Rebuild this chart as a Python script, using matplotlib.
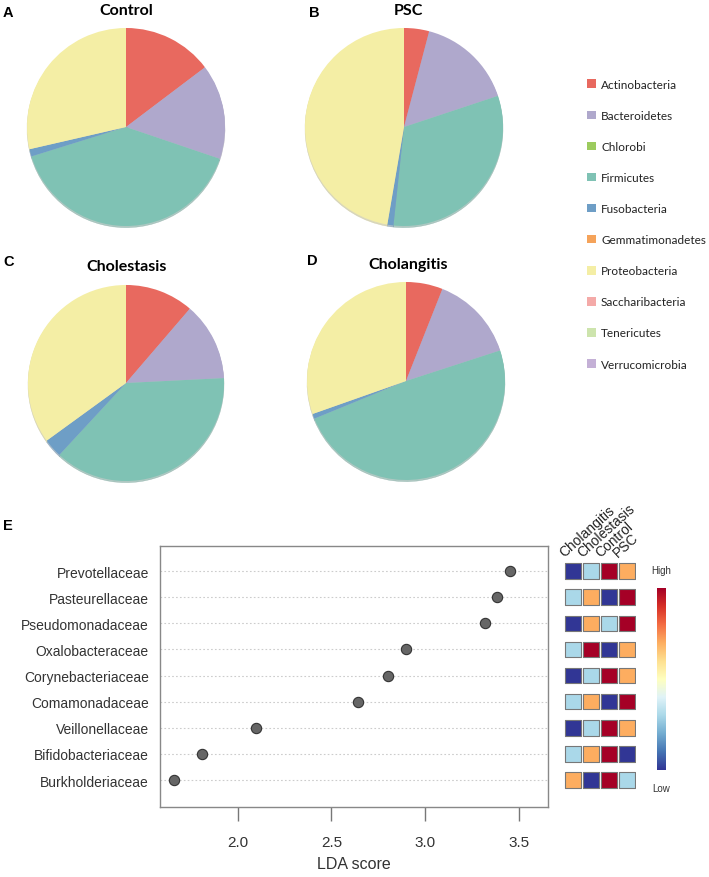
import numpy as np
import matplotlib
matplotlib.use("Agg")
import matplotlib.pyplot as plt
from matplotlib import font_manager
from matplotlib.patches import Patch

W, H = 709, 878

phyla = ['Actinobacteria', 'Bacteroidetes', 'Chlorobi', 'Firmicutes', 'Fusobacteria',
         'Gemmatimonadetes', 'Proteobacteria', 'Saccharibacteria', 'Tenericutes',
         'Verrucomicrobia']
phyla_colors = ['#e8695f', '#afa8cc', '#9ccb5e', '#7fc2b4', '#6e9ec6',
                '#f5a35a', '#f4eea5', '#f4aaa8', '#cde4ad', '#c4b0d6']

# relative abundance (%), same order as phyla
control = [14.7, 15.5, 0.0, 40.0, 1.2, 0.0, 28.6, 0.0, 0.0, 0.0]
psc = [4.1, 15.8, 0.0, 31.8, 1.0, 0.0, 47.3, 0.0, 0.0, 0.0]
cholestasis = [11.3, 12.9, 0.0, 37.7, 3.1, 0.0, 35.0, 0.0, 0.0, 0.0]
cholangitis = [6.0, 14.0, 0.0, 48.8, 0.8, 0.0, 30.4, 0.0, 0.0, 0.0]

families = ['Prevotellaceae', 'Pasteurellaceae', 'Pseudomonadaceae', 'Oxalobacteraceae',
            'Corynebacteriaceae', 'Comamonadaceae', 'Veillonellaceae',
            'Bifidobacteriaceae', 'Burkholderiaceae']
lda = [3.45, 3.38, 3.32, 2.90, 2.80, 2.64, 2.10, 1.81, 1.66]

groups = ['Cholangitis', 'Cholestasis', 'Control', 'PSC']
# relative level per group (1 = low ... 4 = high)
levels = [[1, 2, 4, 3],
          [2, 3, 1, 4],
          [1, 3, 2, 4],
          [2, 4, 1, 3],
          [1, 2, 4, 3],
          [2, 3, 1, 4],
          [1, 2, 4, 3],
          [2, 3, 4, 1],
          [3, 1, 4, 2]]

fig = plt.figure(figsize=(W / 100, H / 100), dpi=100)


def px_axes(x0, y0, x1, y1):
    return fig.add_axes([x0 / W, 1 - y1 / H, (x1 - x0) / W, (y1 - y0) / H])


def fig_text(x, y, s, **kw):
    fig.text(x / W, 1 - y / H, s, **kw)


pies = [('Control', control, 126, 128, 100, 'A', 126, 11),
        ('PSC', psc, 404, 128, 100, 'B', 408, 11),
        ('Cholestasis', cholestasis, 126, 384, 99, 'C', 127, 267),
        ('Cholangitis', cholangitis, 406, 382, 100, 'D', 408, 265)]

for name, vals, cx, cy, r, letter, tx, ty in pies:
    ax = px_axes(cx - r, cy - r, cx + r, cy + r)
    keep = [i for i, v in enumerate(vals) if v > 0]
    ax.pie([vals[i] for i in keep], colors=[phyla_colors[i] for i in keep],
           startangle=90, counterclock=False,
           wedgeprops={'linewidth': 0.3, 'edgecolor': 'none'},
           shadow={'ox': 0.0, 'oy': -0.012, 'shade': 0.25})
    ax.set_xlim(-1.01, 1.01)
    ax.set_ylim(-1.01, 1.01)
    fig_text(tx, ty, name, family='Lato', weight='bold', fontsize=11.5,
             ha='center', va='center')

for letter, x, y in [('A', 3, 13), ('B', 309, 13), ('C', 3, 262), ('D', 307, 261), ('E', 3, 526)]:
    fig_text(x, y, letter, family='Liberation Sans', weight='bold', fontsize=10.5,
             ha='left', va='center')

# legend font: a narrow face if there is one, else Lato a bit smaller
try:
    font_manager.findfont('Liberation Sans Narrow', fallback_to_default=False)
    leg_prop = {'family': 'Liberation Sans Narrow', 'size': 10}
    leg_space = 1.4
except ValueError:
    leg_prop = {'family': 'Lato', 'size': 8.5}
    leg_space = 1.7

handles = [Patch(facecolor=c, edgecolor='none') for c in phyla_colors]
fig.legend(handles, phyla, loc='upper left', bbox_to_anchor=(581 / W, 1 - 74 / H),
           frameon=False, borderpad=0, handlelength=0.75, handleheight=0.75,
           handletextpad=0.45, labelspacing=leg_space, prop=leg_prop,
           labelcolor='#222222')

# LDA panel
rows = np.arange(len(families))
ax = px_axes(160, 547, 548, 808)
ax.scatter(lda, rows, s=55, facecolor='#666666', edgecolor='#333333', linewidth=0.8, zorder=3)
ax.set_xlim(1.587, 3.654)
ax.set_ylim(len(families) - 1 + 1.03, -0.96)
ax.set_yticks(rows)
ax.set_yticklabels(families, family='Liberation Sans', fontsize=10, color='#333333')
ax.set_xticks([2.0, 2.5, 3.0, 3.5])
ax.set_xticklabels(['2.0', '2.5', '3.0', '3.5'], family='Liberation Sans', fontsize=11,
                   color='#333333')
ax.tick_params(axis='y', length=0, pad=8)
ax.tick_params(axis='x', length=10, width=1, color='#777777', pad=10)
ax.grid(axis='y', linestyle=(0, (1.5, 2)), color='#cccccc', linewidth=0.8)
ax.set_axisbelow(True)
for s in ax.spines.values():
    s.set_color('#888888')
    s.set_linewidth(1)
ax.set_xlabel('LDA score', family='Liberation Sans', fontsize=11.5, color='#333333',
              labelpad=5)

# heatmap of group levels
cmap = plt.get_cmap('RdYlBu_r')
level_pos = np.array([0.0, 0.3, 0.7, 1.0])
hx = px_axes(564, 547, 636, 808)
lv = np.array(levels)
gx, gy = np.meshgrid(np.arange(len(groups)), rows)
hx.scatter(gx.ravel(), gy.ravel(), c=cmap(level_pos[lv.ravel() - 1]), marker='s', s=125,
           edgecolor='#777777', linewidth=0.8)
hx.set_xlim(-0.5, len(groups) - 0.5)
hx.set_ylim(len(families) - 1 + 1.03, -0.96)
hx.axis('off')
for i, g in enumerate(groups):
    hx.text(i - 0.4, -0.45, g, rotation=42, rotation_mode='anchor', ha='left', va='bottom',
            family='Liberation Sans', fontsize=10, color='#222222', clip_on=False)

cax = px_axes(657, 589, 666, 771)
grad = np.linspace(1, 0, 256).reshape(-1, 1)
cax.imshow(grad, cmap=cmap, aspect='auto', extent=(0, 1, 0, 1))
cax.set_axis_off()
fig_text(661, 571, 'High', family='Liberation Sans', fontsize=7, color='#333333',
         ha='center', va='center')
fig_text(661, 789, 'Low', family='Liberation Sans', fontsize=7, color='#333333',
         ha='center', va='center')

fig.savefig('out.png', dpi=100)
